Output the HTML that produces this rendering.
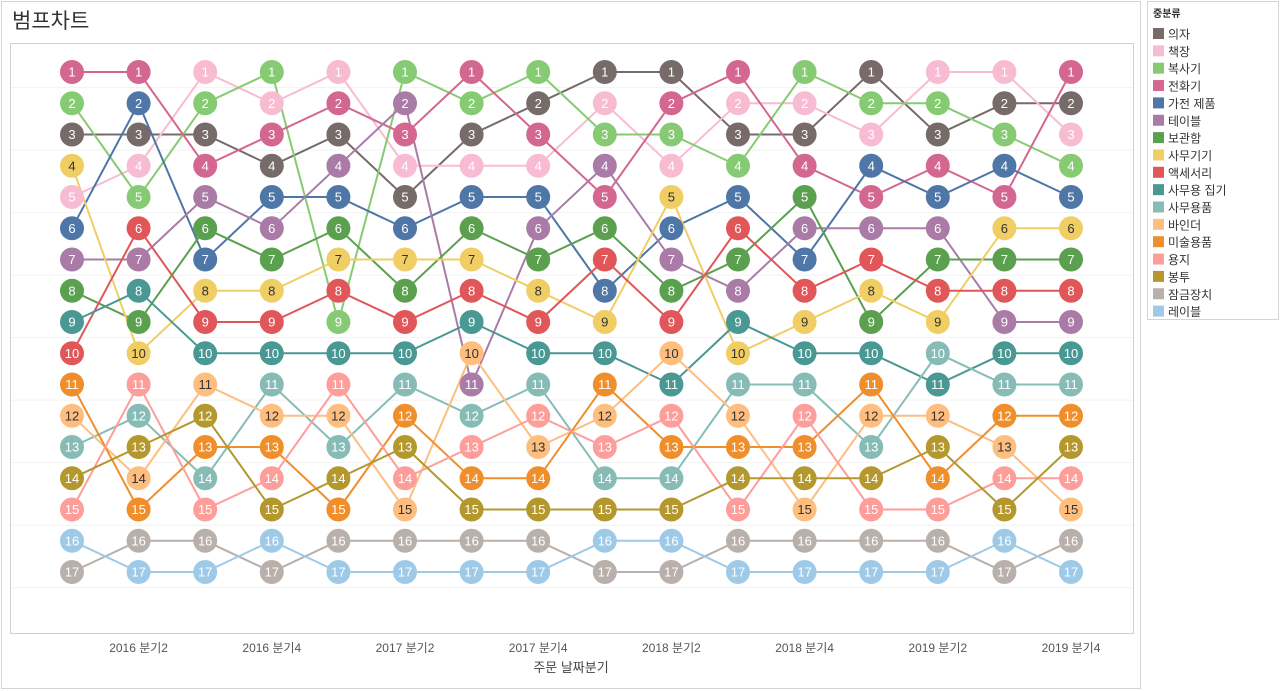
<!DOCTYPE html>
<html><head><meta charset="utf-8">
<style>
body{margin:0;background:#fff;font-family:"Liberation Sans","Noto Sans CJK KR",sans-serif;}
#wrap{position:relative;width:1280px;height:691px;overflow:hidden;}
</style></head>
<body>
<div id="wrap">
<svg id="svg" width="1280" height="691" xmlns="http://www.w3.org/2000/svg">
<rect x="1.5" y="1.5" width="1139" height="687" fill="none" stroke="#d4d4d4"/>
<text x="12" y="28" font-size="21" fill="#333" font-family="Liberation Sans, Noto Sans CJK KR, sans-serif">범프차트</text>
<rect x="10.5" y="43.5" width="1123" height="590" fill="none" stroke="#d0d0d0"/>
<g id="grid"></g>
<g id="lines"></g>
<g id="dots"></g>
<g id="xaxis"></g>
<text x="571" y="672" font-size="13" fill="#444" text-anchor="middle" font-family="Liberation Sans, Noto Sans CJK KR, sans-serif">주문 날짜분기</text>
<rect x="1147.5" y="1.5" width="131" height="318" fill="#fff" stroke="#d4d4d4"/>
<text x="1153" y="17" font-size="10" font-weight="bold" fill="#333" font-family="Liberation Sans, Noto Sans CJK KR, sans-serif">중분류</text>
<g id="legend"></g>
</svg>
</div>
<script>
const quarters = ["2016 분기1","2016 분기2","2016 분기3","2016 분기4","2017 분기1","2017 분기2","2017 분기3","2017 분기4","2018 분기1","2018 분기2","2018 분기3","2018 분기4","2019 분기1","2019 분기2","2019 분기3","2019 분기4"];
const tickLabels = ["2016 분기2","2016 분기4","2017 분기2","2017 분기4","2018 분기2","2018 분기4","2019 분기2","2019 분기4"];
const categories = ["의자","책장","복사기","전화기","가전 제품","테이블","보관함","사무기기","액세서리","사무용 집기","사무용품","바인더","미술용품","용지","봉투","잠금장치","레이블"];
const colors = ["#776b69","#f8bcd2","#86cb73","#d3678f","#4e76a6","#a97ba6","#5aa04f","#f1ce64","#e05659","#4a9893","#87bcb6","#fdbe7f","#f18e2c","#fe9e9b","#b4982e","#b9afab","#9fcae7"];
const darkText = [false,false,false,false,false,false,false,true,false,false,false,true,false,false,false,false,false];
const rChair    = [3,3,3,4,3,5,3,2,1,1,3,3,1,3,2,2];
const rShelf    = [5,4,1,2,1,4,4,4,2,4,2,2,3,1,1,3];
const rCopier   = [2,5,2,1,9,1,2,1,3,3,4,1,2,2,3,4];
const rPhone    = [1,1,4,3,2,3,1,3,5,2,1,4,5,4,5,1];
const rAppl     = [6,2,7,5,5,6,5,5,8,6,5,7,4,5,4,5];
const rTable    = [7,7,5,6,4,2,11,6,4,7,8,6,6,6,9,9];
const rStorage  = [8,9,6,7,6,8,6,7,6,8,7,5,9,7,7,7];
const rMachine  = [4,10,8,8,7,7,7,8,9,5,10,9,8,9,6,6];
const rAccess   = [10,6,9,9,8,9,8,9,7,9,6,8,7,8,8,8];
const rFurnish  = [9,8,10,10,10,10,9,10,10,11,9,10,10,11,10,10];
const rSupplies = [13,12,14,11,13,11,12,11,14,14,11,11,13,10,11,11];
const rBinder   = [12,14,11,12,12,15,10,13,12,10,12,15,12,12,13,15];
const rArt      = [11,15,13,13,15,12,14,14,11,13,13,13,11,14,12,12];
const rPaper    = [15,11,15,14,11,14,13,12,13,12,15,12,15,15,14,14];
const rEnvelope = [14,13,12,15,14,13,15,15,15,15,14,14,14,13,15,13];
const rLock     = [17,16,16,17,16,16,16,16,17,17,16,16,16,16,17,16];
const rLabel    = [16,17,17,16,17,17,17,17,16,16,17,17,17,17,16,17];
const ranks = [rChair,rShelf,rCopier,rPhone,rAppl,rTable,rStorage,rMachine,rAccess,rFurnish,rSupplies,rBinder,rArt,rPaper,rEnvelope,rLock,rLabel];

const NS="http://www.w3.org/2000/svg";
const FONT="Liberation Sans, Noto Sans CJK KR, sans-serif";
function x(i){return 72 + i*66.6;}
function y(r){return 72 + (r-1)*31.25;}
function mk(tag,attrs,parent){const e=document.createElementNS(NS,tag);for(const k in attrs)e.setAttribute(k,attrs[k]);parent.appendChild(e);return e;}

const grid=document.getElementById('grid');
for(let k=0;k<9;k++){
  const gl=mk('line',{x1:11,x2:1133,y1:y(2+k*2)-15.6,y2:y(2+k*2)-15.6,stroke:'#f2f2f2','stroke-width':1},grid);
  
  
}
const lines=document.getElementById('lines'), dots=document.getElementById('dots');
ranks.forEach((arr,c)=>{
  const pts=arr.map((r,i)=>x(i).toFixed(1)+','+y(r).toFixed(1)).join(' ');
  const pl=mk('polyline',{points:pts,fill:'none',stroke:colors[c],'stroke-width':2},lines);
  
  
});
ranks.forEach((arr,c)=>{
  arr.forEach((r,i)=>{
    const g=mk('g',{},dots);
    
    
    mk('circle',{cx:x(i),cy:y(r),r:12,fill:colors[c]},g);
    const t=mk('text',{x:x(i),y:y(r)+4.5,'text-anchor':'middle','font-size':13,fill:darkText[c]?'#333':'#fff','font-family':FONT},g);
    t.textContent=r;
  });
});
const xa=document.getElementById('xaxis');
tickLabels.forEach((lab)=>{
  const i=quarters.indexOf(lab);
  const t=mk('text',{x:x(i),y:652,'text-anchor':'middle','font-size':12,fill:'#555','font-family':FONT},xa);
  
  
  t.textContent=lab;
});
const lg=document.getElementById('legend');
categories.forEach((cat,c)=>{
  const g=mk('g',{},lg);
  
  
  const yy=34+c*17.35;
  mk('rect',{x:1153,y:yy-6,width:11,height:11,fill:colors[c]},g);
  const t=mk('text',{x:1168,y:yy+4.5,'font-size':12,fill:'#333','font-family':FONT},g);
  t.textContent=cat;
});
</script>
</body></html>
